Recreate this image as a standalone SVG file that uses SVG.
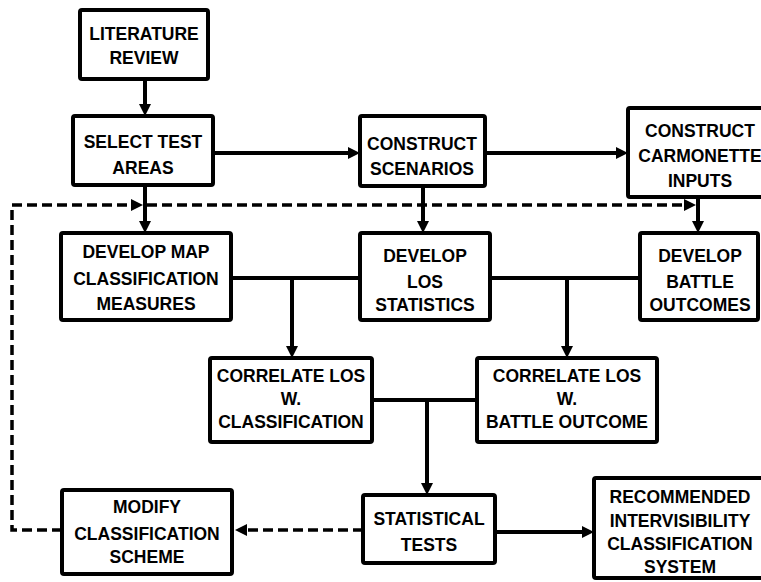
<svg xmlns="http://www.w3.org/2000/svg" width="761" height="582" viewBox="0 0 761 582">
  <style>
    .box { fill: #fff; stroke: #000; stroke-width: 4; }
    .lbl { font-family: "Liberation Sans", Arial, sans-serif; font-weight: bold; font-size: 17.5px; fill: #000; text-anchor: middle; }
    .wire { fill: none; stroke: #000; stroke-width: 4; }
    .dash { fill: none; stroke: #000; stroke-width: 3.5; stroke-dasharray: 10 5; }
  </style>
  <defs>
    <marker id="head" markerUnits="userSpaceOnUse" markerWidth="13" markerHeight="13" refX="3" refY="6" orient="auto">
      <path d="M0,0 L12,6 L0,12 z" fill="#000"/>
    </marker>
  </defs>
  <rect width="761" height="582" fill="#fff"/>

  <g id="connectors">
    <!-- solid flow -->
    <path class="wire" d="M145 80 V107" marker-end="url(#head)"/>
    <path class="wire" d="M213 153 H351" marker-end="url(#head)"/>
    <path class="wire" d="M485 153 H619" marker-end="url(#head)"/>
    <path class="wire" d="M145 185 V224" marker-end="url(#head)"/>
    <path class="wire" d="M423 186 V224" marker-end="url(#head)"/>
    <path class="wire" d="M698 197 V224" marker-end="url(#head)"/>
    <!-- merges into correlation steps -->
    <path class="wire" d="M231 278 H360"/>
    <path class="wire" d="M292 278 V349" marker-end="url(#head)"/>
    <path class="wire" d="M490 278 H640"/>
    <path class="wire" d="M567 278 V349" marker-end="url(#head)"/>
    <path class="wire" d="M372 400 H477"/>
    <path class="wire" d="M427 400 V486" marker-end="url(#head)"/>
    <path class="wire" d="M495 532 H585" marker-end="url(#head)"/>
    <!-- feedback loop -->
    <path class="dash" d="M363 530 H244" marker-end="url(#head)"/>
    <path class="dash" d="M62 530 H12 V205 H134" marker-end="url(#head)"/>
    <path class="dash" d="M147 205 H687" marker-end="url(#head)"/>
  </g>

  <g id="literature-review">
    <rect class="box" x="80" y="10" width="128" height="69" rx="2"/>
    <text class="lbl" x="144" y="40">LITERATURE</text>
    <text class="lbl" x="144" y="64">REVIEW</text>
  </g>

  <g id="select-test-areas">
    <rect class="box" x="73" y="116" width="140" height="69" rx="2"/>
    <text class="lbl" x="143" y="148">SELECT TEST</text>
    <text class="lbl" x="143" y="174">AREAS</text>
  </g>

  <g id="construct-scenarios">
    <rect class="box" x="360" y="116" width="125" height="70" rx="2"/>
    <text class="lbl" x="422" y="150">CONSTRUCT</text>
    <text class="lbl" x="422" y="175">SCENARIOS</text>
  </g>

  <g id="construct-carmonette-inputs">
    <rect class="box" x="628" y="108" width="146" height="89" rx="2"/>
    <text class="lbl" x="700" y="137">CONSTRUCT</text>
    <text class="lbl" x="700" y="162">CARMONETTE</text>
    <text class="lbl" x="700" y="187">INPUTS</text>
  </g>

  <g id="develop-map-classification">
    <rect class="box" x="61" y="233" width="170" height="87" rx="2"/>
    <text class="lbl" x="146" y="258">DEVELOP MAP</text>
    <text class="lbl" x="146" y="285">CLASSIFICATION</text>
    <text class="lbl" x="146" y="310">MEASURES</text>
  </g>

  <g id="develop-los-statistics">
    <rect class="box" x="360" y="233" width="130" height="87" rx="2"/>
    <text class="lbl" x="425" y="262">DEVELOP</text>
    <text class="lbl" x="425" y="288">LOS</text>
    <text class="lbl" x="425" y="311">STATISTICS</text>
  </g>

  <g id="develop-battle-outcomes">
    <rect class="box" x="640" y="233" width="118" height="87" rx="2"/>
    <text class="lbl" x="700" y="262">DEVELOP</text>
    <text class="lbl" x="700" y="288">BATTLE</text>
    <text class="lbl" x="700" y="311">OUTCOMES</text>
  </g>

  <g id="correlate-classification">
    <rect class="box" x="210" y="358" width="162" height="84" rx="2"/>
    <text class="lbl" x="291" y="382">CORRELATE LOS</text>
    <text class="lbl" x="291" y="405">W.</text>
    <text class="lbl" x="291" y="428">CLASSIFICATION</text>
  </g>

  <g id="correlate-battle-outcome">
    <rect class="box" x="477" y="358" width="180" height="84" rx="2"/>
    <text class="lbl" x="567" y="382">CORRELATE LOS</text>
    <text class="lbl" x="567" y="405">W.</text>
    <text class="lbl" x="567" y="428">BATTLE OUTCOME</text>
  </g>

  <g id="modify-classification-scheme">
    <rect class="box" x="62" y="490" width="170" height="84" rx="2"/>
    <text class="lbl" x="147" y="513">MODIFY</text>
    <text class="lbl" x="147" y="540">CLASSIFICATION</text>
    <text class="lbl" x="147" y="563">SCHEME</text>
  </g>

  <g id="statistical-tests">
    <rect class="box" x="363" y="495" width="132" height="68" rx="2"/>
    <text class="lbl" x="429" y="525">STATISTICAL</text>
    <text class="lbl" x="429" y="551">TESTS</text>
  </g>

  <g id="recommended-system">
    <rect class="box" x="594" y="478" width="172" height="100" rx="2"/>
    <text class="lbl" x="680" y="503">RECOMMENDED</text>
    <text class="lbl" x="680" y="527">INTERVISIBILITY</text>
    <text class="lbl" x="680" y="550">CLASSIFICATION</text>
    <text class="lbl" x="680" y="573">SYSTEM</text>
  </g>
</svg>
